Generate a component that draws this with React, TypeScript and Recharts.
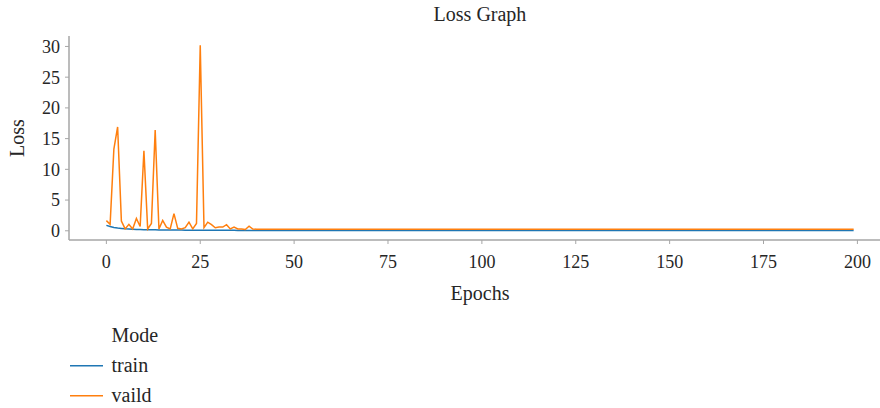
import React from "react";
import { LineChart, Line, XAxis, YAxis, Legend } from "recharts";

// loss per epoch (0..199)
const trainLoss: number[] = [
  0.88, 0.7, 0.55, 0.45, 0.38, 0.32, 0.28, 0.25, 0.22, 0.2, 0.18, 0.17, 0.16, 0.15, 0.14, 0.13, 0.13, 0.12, 0.12, 0.11,
  0.11, 0.1, 0.1, 0.1, 0.09, 0.09, 0.09, 0.08, 0.08, 0.08, 0.08, 0.07, 0.07, 0.07, 0.07, 0.06, 0.06, 0.06, 0.06, 0.06,
  0.05, 0.05, 0.05, 0.05, 0.05, 0.05, 0.05, 0.05, 0.05, 0.05, 0.05, 0.05, 0.05, 0.05, 0.05, 0.05, 0.05, 0.05, 0.05, 0.05,
  0.05, 0.05, 0.05, 0.05, 0.05, 0.05, 0.05, 0.05, 0.05, 0.05, 0.05, 0.05, 0.05, 0.05, 0.05, 0.05, 0.05, 0.05, 0.05, 0.05,
  0.05, 0.05, 0.05, 0.05, 0.05, 0.05, 0.05, 0.05, 0.05, 0.05, 0.05, 0.05, 0.05, 0.05, 0.05, 0.05, 0.05, 0.05, 0.05, 0.05,
  0.05, 0.05, 0.05, 0.05, 0.05, 0.05, 0.05, 0.05, 0.05, 0.05, 0.05, 0.05, 0.05, 0.05, 0.05, 0.05, 0.05, 0.05, 0.05, 0.05,
  0.05, 0.05, 0.05, 0.05, 0.05, 0.05, 0.05, 0.05, 0.05, 0.05, 0.05, 0.05, 0.05, 0.05, 0.05, 0.05, 0.05, 0.05, 0.05, 0.05,
  0.05, 0.05, 0.05, 0.05, 0.05, 0.05, 0.05, 0.05, 0.05, 0.05, 0.05, 0.05, 0.05, 0.05, 0.05, 0.05, 0.05, 0.05, 0.05, 0.05,
  0.05, 0.05, 0.05, 0.05, 0.05, 0.05, 0.05, 0.05, 0.05, 0.05, 0.05, 0.05, 0.05, 0.05, 0.05, 0.05, 0.05, 0.05, 0.05, 0.05,
  0.05, 0.05, 0.05, 0.05, 0.05, 0.05, 0.05, 0.05, 0.05, 0.05, 0.05, 0.05, 0.05, 0.05, 0.05, 0.05, 0.05, 0.05, 0.05, 0.05,
];

const vaildLoss: number[] = [
  1.65, 1.05, 13.3, 16.9, 1.6, 0.3, 1.05, 0.3, 2.0, 0.7, 13.0, 0.3, 1.2, 16.4, 0.3, 1.7, 0.6, 0.3, 2.8, 0.4,
  0.3, 0.5, 1.4, 0.3, 1.2, 30.2, 0.5, 1.4, 1.0, 0.5, 0.6, 0.6, 1.0, 0.3, 0.6, 0.3, 0.3, 0.2, 0.75, 0.28,
  0.25, 0.25, 0.25, 0.25, 0.25, 0.25, 0.25, 0.25, 0.25, 0.25, 0.25, 0.25, 0.25, 0.25, 0.25, 0.25, 0.25, 0.25, 0.25, 0.25,
  0.25, 0.25, 0.25, 0.25, 0.25, 0.25, 0.25, 0.25, 0.25, 0.25, 0.25, 0.25, 0.25, 0.25, 0.25, 0.25, 0.25, 0.25, 0.25, 0.25,
  0.25, 0.25, 0.25, 0.25, 0.25, 0.25, 0.25, 0.25, 0.25, 0.25, 0.25, 0.25, 0.25, 0.25, 0.25, 0.25, 0.25, 0.25, 0.25, 0.25,
  0.25, 0.25, 0.25, 0.25, 0.25, 0.25, 0.25, 0.25, 0.25, 0.25, 0.25, 0.25, 0.25, 0.25, 0.25, 0.25, 0.25, 0.25, 0.25, 0.25,
  0.25, 0.25, 0.25, 0.25, 0.25, 0.25, 0.25, 0.25, 0.25, 0.25, 0.25, 0.25, 0.25, 0.25, 0.25, 0.25, 0.25, 0.25, 0.25, 0.25,
  0.25, 0.25, 0.25, 0.25, 0.25, 0.25, 0.25, 0.25, 0.25, 0.25, 0.25, 0.25, 0.25, 0.25, 0.25, 0.25, 0.25, 0.25, 0.25, 0.25,
  0.25, 0.25, 0.25, 0.25, 0.25, 0.25, 0.25, 0.25, 0.25, 0.25, 0.25, 0.25, 0.25, 0.25, 0.25, 0.25, 0.25, 0.25, 0.25, 0.25,
  0.25, 0.25, 0.25, 0.25, 0.25, 0.25, 0.25, 0.25, 0.25, 0.25, 0.25, 0.25, 0.25, 0.25, 0.25, 0.25, 0.25, 0.25, 0.25, 0.25,
];

const xTicks = [0, 25, 50, 75, 100, 125, 150, 175, 200];
const yTicks = [0, 5, 10, 15, 20, 25, 30];

const data = vaildLoss.map((v, i) => ({ epoch: i, train: trainLoss[i], vaild: v }));

const FONT = "'Liberation Serif', 'DejaVu Serif'";
const SPINE = "#a6a6a6";
const TEXT = "#262626";

const ModeLegend = (props: any) => {
  const items = props.payload || [];
  return (
    <svg width={200} height={90} style={{ display: "block" }}>
      <text x={111.5} y={21.7} fontFamily={FONT} fontSize={20} fill={TEXT}>
        Mode
      </text>
      {items.map((it: any, i: number) => (
        <g key={it.value}>
          <line x1={70} x2={103} y1={45.7 + i * 30} y2={45.7 + i * 30} stroke={it.color} strokeWidth={1.5} />
          <text x={111.5} y={51.7 + i * 30} fontFamily={FONT} fontSize={20} fill={TEXT}>
            {it.value}
          </text>
        </g>
      ))}
    </svg>
  );
};

export default function App() {
  return (
    <div style={{ position: "relative", width: 880, height: 408, overflow: "hidden", background: "#fff" }}>
      <style>{`body{margin:0}`}</style>
      <div
        style={{
          position: "absolute",
          top: 4,
          left: 0,
          width: 960,
          textAlign: "center",
          fontFamily: FONT,
          fontSize: 20,
          lineHeight: "20px",
          color: TEXT,
        }}
      >
        Loss Graph
      </div>
      <LineChart width={891} height={408} data={data} margin={{ top: 36, right: 0, left: 0, bottom: 108 }}>
        <XAxis
          dataKey="epoch"
          type="number"
          domain={[-9.95, 208.95]}
          allowDataOverflow
          ticks={xTicks}
          height={60}
          tickSize={4}
          tickMargin={11}
          axisLine={{ stroke: SPINE, strokeWidth: 1.5 }}
          tickLine={{ stroke: SPINE }}
          tick={{ fontFamily: FONT, fontSize: 18, fill: TEXT }}
          label={{ value: "Epochs", position: "insideBottom", offset: 0, style: { fontFamily: FONT, fontSize: 20, fill: TEXT } }}
        />
        <XAxis
          xAxisId="top"
          dataKey="epoch"
          type="number"
          domain={[-9.95, 208.95]}
          orientation="top"
          height={0}
          tick={false}
          tickLine={false}
          axisLine={{ stroke: SPINE, strokeWidth: 1.5 }}
        />
        <YAxis
          type="number"
          domain={[-1.5, 31.7]}
          allowDataOverflow
          ticks={yTicks}
          width={69}
          tickSize={4}
          tickMargin={5}
          axisLine={{ stroke: SPINE, strokeWidth: 1.5 }}
          tickLine={{ stroke: SPINE }}
          tick={{ fontFamily: FONT, fontSize: 18, fill: TEXT }}
          label={{
            value: "Loss",
            angle: -90,
            position: "insideLeft",
            offset: 17,
            style: { textAnchor: "middle", fontFamily: FONT, fontSize: 20, fill: TEXT },
          }}
        />
        <Legend
          layout="vertical"
          verticalAlign="middle"
          align="center"
          content={ModeLegend}
          wrapperStyle={{ left: 0, top: 320, width: 200, height: 90 }}
        />
        <Line
          name="train"
          dataKey="train"
          type="linear"
          stroke="#1f77b4"
          strokeWidth={1.5}
          dot={false}
          isAnimationActive={false}
        />
        <Line
          name="vaild"
          dataKey="vaild"
          type="linear"
          stroke="#ff7f0e"
          strokeWidth={1.5}
          dot={false}
          isAnimationActive={false}
        />
      </LineChart>
    </div>
  );
}
